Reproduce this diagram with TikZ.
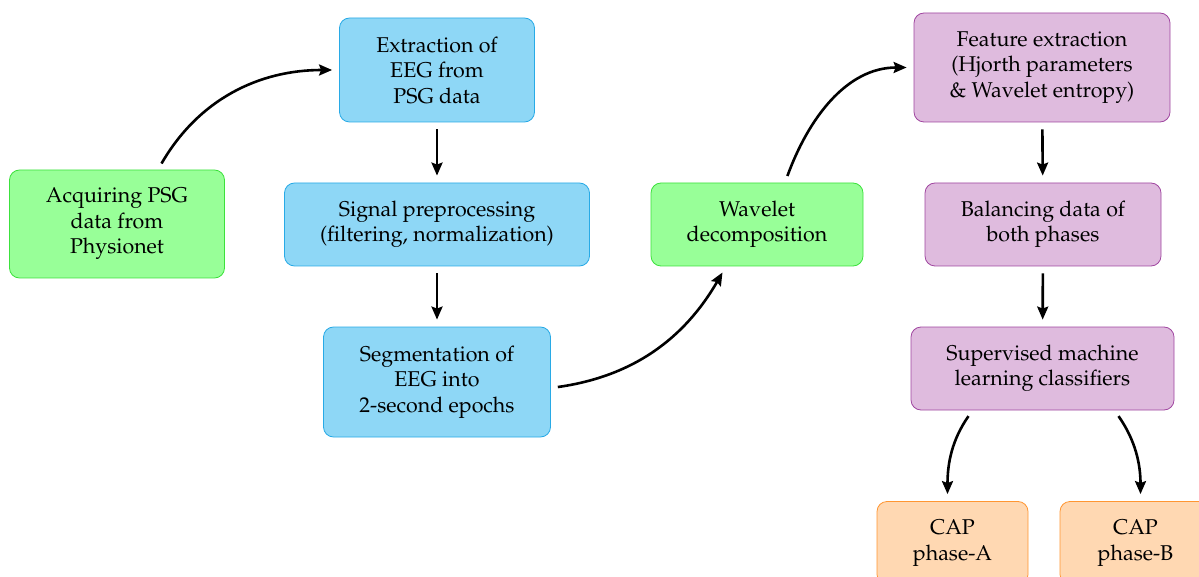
\documentclass[tikz,border=0pt]{standalone}
\usepackage[T1]{fontenc}
\usepackage{mathpazo}
\usepackage{tikz}
\usetikzlibrary{arrows.meta}
\definecolor{acqfill}{RGB}{152,255,152}
\definecolor{acqdraw}{RGB}{60,225,60}
\definecolor{eegfill}{RGB}{142,215,246}
\definecolor{eegdraw}{RGB}{40,170,230}
\definecolor{featfill}{RGB}{223,187,222}
\definecolor{featdraw}{RGB}{160,70,160}
\definecolor{capfill}{RGB}{255,216,178}
\definecolor{capdraw}{RGB}{255,150,50}

\tikzset{
  stepbox/.style={rounded corners=5pt,align=center,inner sep=2pt,
    font=\fontsize{10.7}{12.75}\selectfont},
  greenbox/.style={stepbox,fill=acqfill,draw=acqdraw},
  bluebox/.style={stepbox,fill=eegfill,draw=eegdraw},
  purplebox/.style={stepbox,fill=featfill,draw=featdraw},
  orangebox/.style={stepbox,fill=capfill,draw=capdraw},
  flow/.style={-{Stealth[length=6.5pt,width=5.5pt,inset=1pt]},line width=1.3pt,
    shorten <=3.5pt,shorten >=3.5pt}
}

\begin{document}
\begin{tikzpicture}[x=0.5pt,y=-0.5pt]
\useasboundingbox (0,0) rectangle (1199,577);
\node [greenbox,minimum width=107.5pt,minimum height=54pt] (acq) at (117,224)
{Acquiring PSG\\data from\\Physionet};
\node [bluebox,minimum width=97.5pt,minimum height=52pt] (ext) at (437,70)
{Extraction of\\EEG from\\PSG data};
\node [bluebox,minimum width=152.5pt,minimum height=41.5pt] (sig) at (437,224.5)
{Signal preprocessing\\(filtering, normalization)};
\node [bluebox,minimum width=113.5pt,minimum height=55pt] (seg) at (437,382)
{Segmentation of\\EEG into\\2-second epochs};
\node [greenbox,minimum width=106pt,minimum height=41.5pt] (wav) at (757,224.5)
{Wavelet\\decomposition};
\node [purplebox,minimum width=128pt,minimum height=54.5pt] (feat) at (1042,67.5)
{Feature extraction\\(Hjorth parameters\\\& Wavelet entropy)};
\node [purplebox,minimum width=118pt,minimum height=41.5pt] (bal) at (1043,224.5)
{Balancing data of\\both phases};
\node [purplebox,minimum width=131.5pt,minimum height=41.5pt] (sup) at (1042.5,368.5)
{Supervised machine\\learning classifiers};
\node [orangebox,minimum width=75.5pt,minimum height=41.5pt] (capa) at (952.5,543)
{CAP\\phase-A};
\node [orangebox,minimum width=75.5pt,minimum height=41.5pt] (capb) at (1135.5,543)
{CAP\\phase-B};

\draw [flow] ([xshift=20.5pt]acq.north) to[out=60,in=180] (ext.west);
\draw [flow] (ext) -- (sig);
\draw [flow] (sig) -- (seg);
\draw [flow] ([yshift=-3pt]seg.east) to[out=8,in=240] ([xshift=-15.5pt]wav.south);
\draw [flow] ([xshift=14pt]wav.north) to[out=70,in=180] (feat.west);
\draw [flow] (feat) -- (bal);
\draw [flow] (bal) -- (sup);
\draw [flow] ([xshift=-35pt]sup.south) to[out=-125,in=90] ([xshift=-2.5pt]capa.north);
\draw [flow] ([xshift=36pt]sup.south) to[out=-55,in=90] ([xshift=2.5pt]capb.north);
\end{tikzpicture}
\end{document}
